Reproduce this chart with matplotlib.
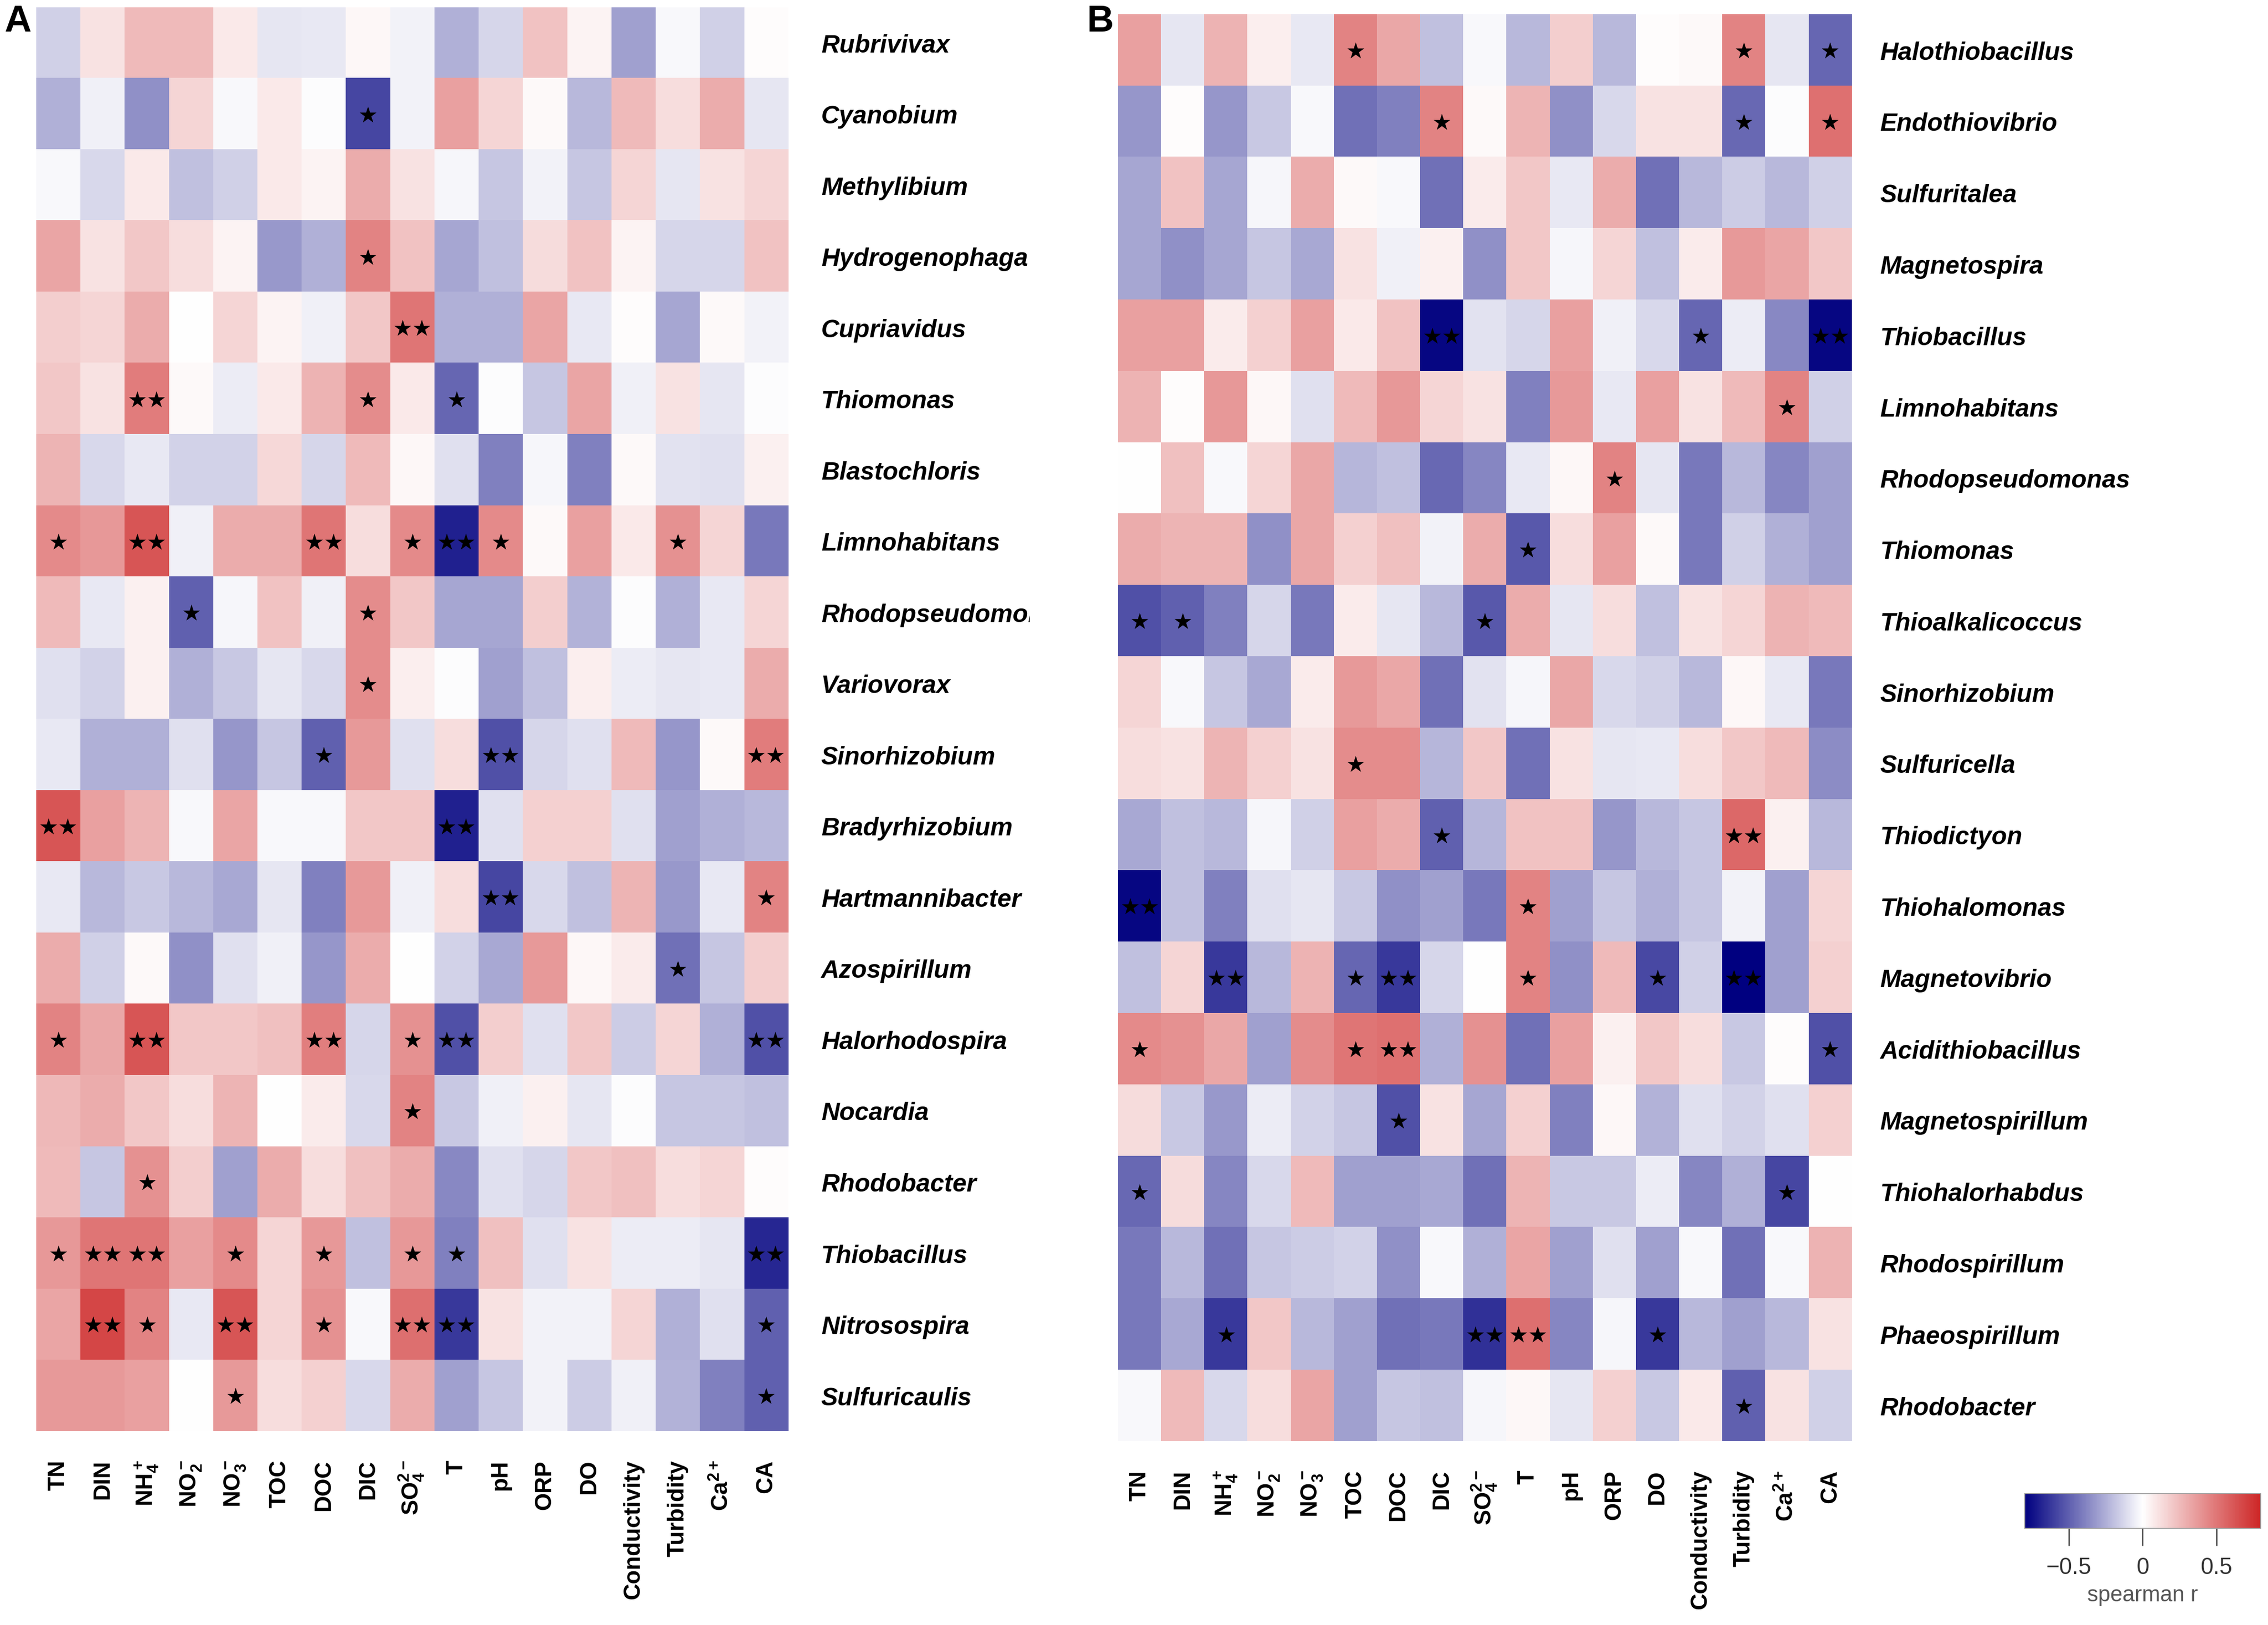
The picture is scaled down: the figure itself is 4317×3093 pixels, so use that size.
import numpy as np
import matplotlib
matplotlib.use("Agg")
import matplotlib.pyplot as plt
from matplotlib.colors import LinearSegmentedColormap
from matplotlib.transforms import Bbox, TransformedBbox

plt.rcParams['font.family'] = ['Liberation Sans', 'DejaVu Sans']
plt.rcParams['mathtext.fontset'] = 'custom'
plt.rcParams['mathtext.rm'] = 'Liberation Sans:bold'
plt.rcParams['mathtext.bf'] = 'Liberation Sans:bold'
plt.rcParams['mathtext.it'] = 'Liberation Sans:bold:italic'

# environmental variables (columns)
env_vars = ['TN', 'DIN', 'NH$_4^+$', 'NO$_2^-$', 'NO$_3^-$', 'TOC', 'DOC', 'DIC',
            'SO$_4^{2-}$', 'T', 'pH', 'ORP', 'DO', 'Conductivity', 'Turbidity',
            'Ca$^{2+}$', 'CA']

# panel A
a_rows = ['Rubrivivax', 'Cyanobium', 'Methylibium', 'Hydrogenophaga', 'Cupriavidus',
          'Thiomonas', 'Blastochloris', 'Limnohabitans', 'Rhodopseudomonas', 'Variovorax',
          'Sinorhizobium', 'Bradyrhizobium', 'Hartmannibacter', 'Azospirillum',
          'Halorhodospira', 'Nocardia', 'Rhodobacter', 'Thiobacillus', 'Nitrosospira',
          'Sulfuricaulis']
a_vals = [
    [-0.15, 0.10, 0.25, 0.25, 0.08, -0.08, -0.07, 0.03, -0.04, -0.25, -0.13, 0.22, 0.04, -0.30, -0.02, -0.15, 0.01],
    [-0.25, -0.05, -0.35, 0.15, -0.02, 0.08, -0.01, -0.58, -0.04, 0.35, 0.15, 0.02, -0.22, 0.25, 0.12, 0.30, -0.08],
    [-0.02, -0.12, 0.08, -0.20, -0.15, 0.08, 0.04, 0.30, 0.10, -0.03, -0.18, -0.04, -0.18, 0.15, -0.08, 0.10, 0.15],
    [0.33, 0.10, 0.20, 0.12, 0.04, -0.32, -0.25, 0.45, 0.22, -0.28, -0.20, 0.13, 0.22, 0.04, -0.13, -0.13, 0.22],
    [0.18, 0.15, 0.30, 0.00, 0.15, 0.04, -0.05, 0.20, 0.50, -0.25, -0.25, 0.33, -0.07, 0.01, -0.28, 0.02, -0.04],
    [0.20, 0.10, 0.48, 0.02, -0.06, 0.08, 0.28, 0.42, 0.08, -0.48, -0.01, -0.18, 0.33, -0.05, 0.10, -0.08, -0.01],
    [0.27, -0.12, -0.07, -0.14, -0.14, 0.14, -0.13, 0.25, 0.03, -0.10, -0.40, -0.03, -0.40, 0.02, -0.09, -0.10, 0.05],
    [0.43, 0.38, 0.62, -0.05, 0.30, 0.30, 0.50, 0.12, 0.43, -0.70, 0.43, 0.02, 0.35, 0.08, 0.40, 0.15, -0.42],
    [0.25, -0.07, 0.05, -0.50, -0.03, 0.22, -0.05, 0.42, 0.20, -0.28, -0.28, 0.18, -0.24, -0.01, -0.25, -0.07, 0.15],
    [-0.10, -0.14, 0.05, -0.25, -0.17, -0.08, -0.12, 0.42, 0.06, -0.01, -0.30, -0.20, 0.06, -0.06, -0.08, -0.07, 0.30],
    [-0.07, -0.25, -0.25, -0.10, -0.33, -0.18, -0.50, 0.37, -0.10, 0.12, -0.55, -0.13, -0.10, 0.25, -0.33, 0.02, 0.48],
    [0.62, 0.35, 0.27, -0.02, 0.33, -0.02, -0.02, 0.20, 0.20, -0.70, -0.10, 0.17, 0.17, -0.10, -0.30, -0.25, -0.22],
    [-0.07, -0.22, -0.17, -0.22, -0.27, -0.08, -0.40, 0.37, -0.05, 0.12, -0.58, -0.12, -0.20, 0.27, -0.32, -0.07, 0.45],
    [0.30, -0.15, 0.02, -0.35, -0.10, -0.05, -0.33, 0.30, 0.00, -0.14, -0.27, 0.37, 0.03, 0.07, -0.45, -0.18, 0.18],
    [0.45, 0.32, 0.62, 0.20, 0.20, 0.23, 0.47, -0.13, 0.40, -0.55, 0.18, -0.10, 0.20, -0.16, 0.15, -0.25, -0.55],
    [0.26, 0.30, 0.20, 0.12, 0.27, 0.00, 0.07, -0.12, 0.45, -0.17, -0.05, 0.05, -0.08, -0.01, -0.18, -0.18, -0.20],
    [0.25, -0.18, 0.40, 0.18, -0.30, 0.30, 0.12, 0.23, 0.30, -0.37, -0.10, -0.13, 0.20, 0.23, 0.12, 0.15, 0.01],
    [0.38, 0.50, 0.50, 0.35, 0.43, 0.15, 0.38, -0.20, 0.38, -0.40, 0.23, -0.10, 0.10, -0.06, -0.06, -0.08, -0.68],
    [0.33, 0.68, 0.45, -0.07, 0.62, 0.15, 0.40, -0.02, 0.53, -0.62, 0.10, -0.04, -0.04, 0.15, -0.25, -0.10, -0.50],
    [0.37, 0.37, 0.35, 0.00, 0.37, 0.12, 0.17, -0.12, 0.30, -0.30, -0.18, -0.04, -0.16, -0.05, -0.24, -0.40, -0.50],
]
# 0 = ns, 1 = *, 2 = **
a_sig = [
    "00000000000000000", "00000001000000000", "00000000000000000", "00000001000000000",
    "00000000200000000", "00200001010000000", "00000000000000000", "10200020121000100",
    "00010001000000000", "00000001000000000", "00000010002000002", "20000000020000000",
    "00000000002000001", "00000000000000100", "10200020120000002", "00000000100000000",
    "00100000000000000", "12201010110000002", "02102010220000001", "00001000000000001",
]

# panel B
b_rows = ['Halothiobacillus', 'Endothiovibrio', 'Sulfuritalea', 'Magnetospira', 'Thiobacillus',
          'Limnohabitans', 'Rhodopseudomonas', 'Thiomonas', 'Thioalkalicoccus', 'Sinorhizobium',
          'Sulfuricella', 'Thiodictyon', 'Thiohalomonas', 'Magnetovibrio', 'Acidithiobacillus',
          'Magnetospirillum', 'Thiohalorhabdus', 'Rhodospirillum', 'Phaeospirillum', 'Rhodobacter']
b_vals = [
    [0.35, -0.08, 0.28, 0.06, -0.07, 0.45, 0.32, -0.20, -0.02, -0.22, 0.18, -0.22, 0.01, 0.02, 0.45, -0.08, -0.48],
    [-0.33, 0.01, -0.33, -0.17, -0.02, -0.45, -0.40, 0.45, 0.02, 0.27, -0.35, -0.12, 0.10, 0.10, -0.47, -0.01, 0.52],
    [-0.28, 0.22, -0.28, -0.03, 0.30, 0.02, -0.02, -0.45, 0.07, 0.20, -0.07, 0.30, -0.45, -0.22, -0.16, -0.22, -0.15],
    [-0.28, -0.35, -0.28, -0.18, -0.27, 0.10, -0.05, 0.05, -0.35, 0.20, -0.03, 0.15, -0.20, 0.07, 0.37, 0.33, 0.20],
    [0.35, 0.35, 0.07, 0.17, 0.35, 0.08, 0.22, -0.78, -0.09, -0.13, 0.35, -0.05, -0.12, -0.48, -0.06, -0.37, -0.78],
    [0.28, 0.01, 0.38, 0.03, -0.10, 0.25, 0.38, 0.15, 0.10, -0.40, 0.37, -0.07, 0.35, 0.10, 0.25, 0.45, -0.15],
    [0.00, 0.23, -0.02, 0.15, 0.32, -0.23, -0.20, -0.47, -0.38, -0.07, 0.03, 0.45, -0.08, -0.42, -0.22, -0.38, -0.30],
    [0.30, 0.27, 0.27, -0.35, 0.32, 0.17, 0.23, -0.04, 0.30, -0.52, 0.12, 0.35, 0.02, -0.42, -0.15, -0.25, -0.30],
    [-0.55, -0.50, -0.40, -0.13, -0.42, 0.07, -0.08, -0.22, -0.52, 0.30, -0.08, 0.12, -0.20, 0.10, 0.15, 0.28, 0.25],
    [0.15, -0.02, -0.18, -0.27, 0.07, 0.37, 0.32, -0.45, -0.09, -0.03, 0.32, -0.12, -0.15, -0.22, 0.03, -0.07, -0.42],
    [0.12, 0.10, 0.27, 0.17, 0.10, 0.42, 0.42, -0.23, 0.20, -0.45, 0.10, -0.08, -0.07, 0.12, 0.20, 0.25, -0.36],
    [-0.27, -0.20, -0.22, -0.03, -0.15, 0.35, 0.30, -0.50, -0.23, 0.22, 0.22, -0.33, -0.22, -0.18, 0.55, 0.05, -0.22],
    [-0.78, -0.20, -0.40, -0.10, -0.08, -0.17, -0.35, -0.30, -0.42, 0.45, -0.30, -0.18, -0.25, -0.18, -0.04, -0.30, 0.15],
    [-0.20, 0.15, -0.62, -0.22, 0.28, -0.48, -0.62, -0.13, 0.00, 0.45, -0.35, 0.25, -0.57, -0.15, -0.80, -0.30, 0.17],
    [0.43, 0.40, 0.32, -0.30, 0.42, 0.50, 0.52, -0.25, 0.40, -0.45, 0.35, 0.05, 0.20, 0.12, -0.17, 0.01, -0.55],
    [0.13, -0.17, -0.32, -0.06, -0.14, -0.18, -0.55, 0.10, -0.28, 0.17, -0.40, 0.03, -0.24, -0.10, -0.14, -0.10, 0.17],
    [-0.47, 0.13, -0.38, -0.12, 0.25, -0.30, -0.30, -0.27, -0.45, 0.27, -0.17, -0.17, -0.06, -0.38, -0.25, -0.58, 0.00],
    [-0.42, -0.22, -0.45, -0.18, -0.16, -0.14, -0.35, -0.02, -0.25, 0.33, -0.30, -0.10, -0.30, -0.02, -0.45, -0.02, 0.28],
    [-0.42, -0.27, -0.62, 0.20, -0.22, -0.30, -0.45, -0.42, -0.65, 0.53, -0.38, -0.03, -0.62, -0.22, -0.30, -0.22, 0.10],
    [-0.02, 0.25, -0.12, 0.12, 0.33, -0.30, -0.18, -0.20, -0.03, 0.03, -0.08, 0.17, -0.17, 0.08, -0.50, 0.10, -0.15],
]
b_sig = [
    "00000100000000101", "00000001000000101", "00000000000000000", "00000000000000000",
    "00000002000001002", "00000000000000010", "00000000000100000", "00000000010000000",
    "11000000100000000", "00000000000000000", "00000100000000000", "00000001000000200",
    "20000000010000000", "00200120010010200", "10000120000000001", "00000010000000000",
    "10000000000000010", "00000000000000000", "00100000220010000", "00000000000000100",
]

cmap = LinearSegmentedColormap.from_list('navy_white_red', ['#000080', '#ffffff', '#cd2626'])
VMIN, VMAX = -0.8, 0.8


def draw_panel(ax, vals, sig, rows, ypad):
    im = ax.imshow(np.array(vals), cmap=cmap, vmin=VMIN, vmax=VMAX,
                   aspect='auto', interpolation='nearest')
    for i, s in enumerate(sig):
        for j, c in enumerate(s):
            if c != '0':
                ax.text(j, i + 0.02, '★' * int(c), ha='center', va='center',
                        fontsize=10, family='DejaVu Sans', color='black')
    ax.set_xticks(range(len(env_vars)))
    ax.set_xticklabels(env_vars, rotation=90, fontweight='bold', fontsize=10.5,
                       va='top', ha='center')
    ax.yaxis.tick_right()
    ax.set_yticks(range(len(rows)))
    ax.set_yticklabels(rows, fontstyle='italic', fontweight='bold', fontsize=11.5)
    ax.tick_params(axis='x', length=0, pad=13)
    ax.tick_params(axis='y', length=0, pad=ypad)
    for sp in ax.spines.values():
        sp.set_visible(False)
    return im


fig = plt.figure(figsize=(14.39, 10.313), dpi=300)

ax_a = fig.add_axes([0.016, 0.1193, 0.3315, 0.876])
im = draw_panel(ax_a, a_vals, a_sig, a_rows, 15)

ax_b = fig.add_axes([0.493, 0.1131, 0.3234, 0.8778])
draw_panel(ax_b, b_vals, b_sig, b_rows, 13)

# panel A labels get cut where panel B begins
clip = TransformedBbox(Bbox([[0, 0], [0.454, 1]]), fig.transFigure)
for lab in ax_a.get_yticklabels():
    lab.set_clip_box(clip)
    lab.set_clip_on(True)

fig.text(0.002, 0.997, 'A', fontsize=17, fontweight='bold', va='top', ha='left')
fig.text(0.479, 0.997, 'B', fontsize=17, fontweight='bold', va='top', ha='left')

cax = fig.add_axes([0.8927, 0.0595, 0.104, 0.0213])
cb = fig.colorbar(im, cax=cax, orientation='horizontal', ticks=[-0.5, 0, 0.5])
cb.outline.set_linewidth(0.4)
cb.outline.set_edgecolor('#999999')
cb.ax.set_xticklabels(['\u22120.5', '0', '0.5'],
                      family=['Liberation Sans Narrow', 'Liberation Sans'], fontsize=10.5, color='#333333')
cax.tick_params(axis='x', length=8, width=0.6, color='#444444', pad=5)
cb.set_label('spearman r', family=['Liberation Sans Narrow', 'Liberation Sans'],
             fontsize=10, color='#555555', labelpad=3)

fig.savefig('out.png', dpi=300)
